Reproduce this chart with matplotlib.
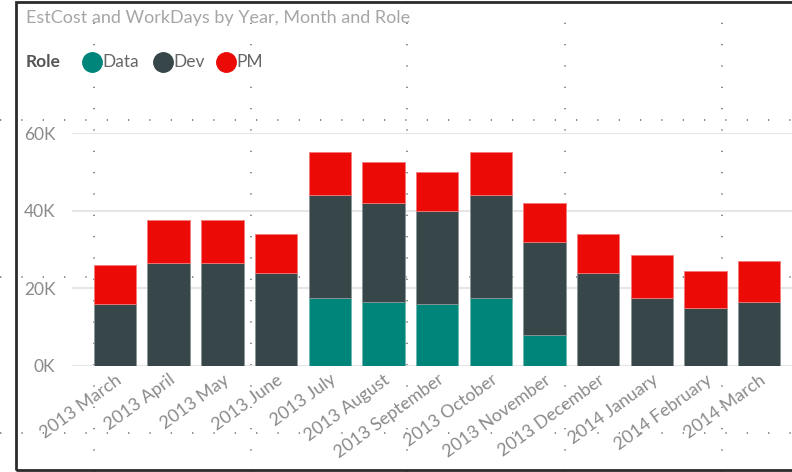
import numpy as np
import matplotlib.pyplot as plt
from matplotlib.lines import Line2D
from matplotlib.patches import Rectangle

plt.rcParams['font.family'] = ['Lato', 'DejaVu Sans']

months = ["2013 March", "2013 April", "2013 May", "2013 June", "2013 July",
          "2013 August", "2013 September", "2013 October", "2013 November",
          "2013 December", "2014 January", "2014 February", "2014 March"]
data = [0, 0, 0, 0, 17500, 16500, 16000, 17500, 8000, 0, 0, 0, 0]
dev = [16000, 26500, 26500, 24000, 26500, 25500, 24000, 26500, 24000, 24000, 17500, 15000, 16500]
pm = [10000, 11000, 11000, 10000, 11000, 10500, 10000, 11000, 10000, 10000, 11000, 9500, 10500]
yticks = [0, 20000, 40000, 60000]
ylabels = ["0K", "20K", "40K", "60K"]

c_data = "#00857A"
c_dev = "#374649"
c_pm = "#EC0A06"
grey = "#8a8a8a"

fig = plt.figure(figsize=(7.92, 4.72), dpi=100)
W, H = 792, 472

def fx(px):
    return px / W

def fy(py):
    return 1 - py / H

# canvas dotted grid (behind everything)
for x in [94, 251, 407, 565, 722]:
    fig.add_artist(Line2D([fx(x), fx(x)], [0, 1], color="#7a7a7a", lw=1.2,
                          ls=(0, (0.8, 12)), zorder=-5))
for y in [120, 277, 433]:
    fig.add_artist(Line2D([0, 1], [fy(y), fy(y)], color="#7a7a7a", lw=1.2,
                          ls=(0, (0.8, 12)), zorder=-5))

# frame of the visual
fig.add_artist(Rectangle((fx(16), fy(470)), 1.1, fy(2) - fy(470), fill=False,
                         ec="#2b2b2b", lw=2, zorder=10))

ax = fig.add_axes([fx(72), fy(366), 1 - fx(72), fy(133) - fy(366)])
ax.patch.set_alpha(0)

x = np.arange(len(months))
d = np.array(data)
v = np.array(dev)
p = np.array(pm)
w = 0.79
ax.bar(x, d, w, color=c_data, edgecolor="#6fb8b0", lw=0.6, zorder=3)
ax.bar(x, v, w, bottom=d, color=c_dev, edgecolor="#8c9698", lw=0.6, zorder=3)
ax.bar(x, p, w, bottom=d + v, color=c_pm, edgecolor="#f37a78", lw=0.6, zorder=3)

ax.set_ylim(0, 60000)
ax.set_xlim(-0.8, 12.61)
ax.set_yticks(yticks)
ax.set_yticklabels(ylabels)
ax.yaxis.grid(True, color="#e6e6e6", lw=1.5, zorder=0)
ax.set_axisbelow(True)
for s in ax.spines.values():
    s.set_visible(False)
ax.tick_params(axis="y", length=0, pad=12, labelsize=12.5, labelcolor=grey)
ax.tick_params(axis="x", length=0, pad=4, labelsize=12.8, labelcolor=grey)
ax.set_xticks(x)
ax.set_xticklabels(months, rotation=36, ha="right", rotation_mode="anchor")

# title and legend
fig.text(fx(26), fy(18), "EstCost and WorkDays by Year, Month and Role",
         fontsize=13, color="#a6a6a6", va="center", ha="left")
fig.text(fx(26), fy(62), "Role", fontsize=12.5, color="#555555",
         va="center", ha="left", fontweight="bold")
for px, col, lab in [(92, c_data, "Data"), (163, c_dev, "Dev"), (226, c_pm, "PM")]:
    fig.add_artist(Line2D([fx(px)], [fy(62)], marker="o", ms=14, color=col, mec=col))
    fig.text(fx(px + 10), fy(62), lab, fontsize=12.5, color="#666666",
             va="center", ha="left")

fig.savefig("out.png", dpi=100)
